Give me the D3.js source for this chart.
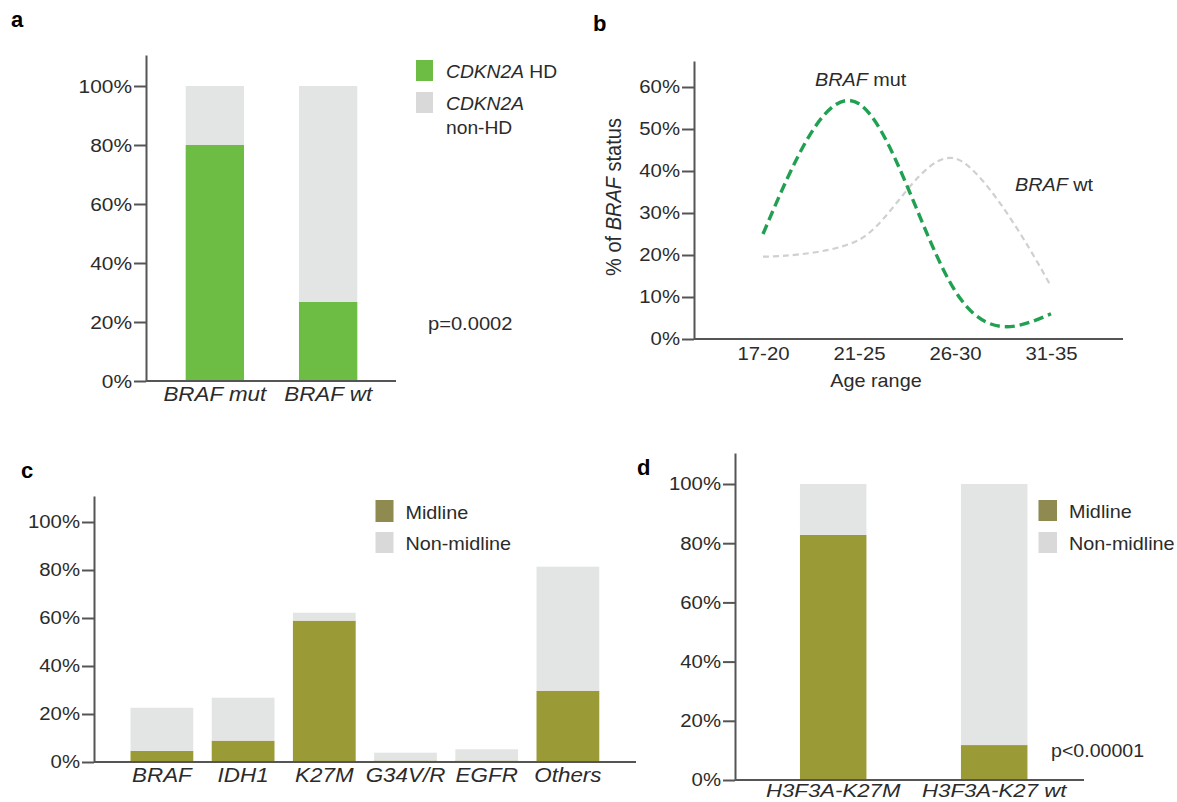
<!DOCTYPE html>
<html>
<head>
<meta charset="utf-8">
<script src="https://cdn.jsdelivr.net/npm/d3@7"></script>
<style>
  body { margin: 0; background: #fff; }
  svg { display: block; }
  text { font-family: "Liberation Sans", Arial, sans-serif; fill: #2b2b2b; }
  .panel-label { font-weight: bold; fill: #000; }
</style>
</head>
<body>
<svg id="chart" width="1177" height="802"></svg>
<script>
// panel a: CDKN2A status by BRAF status
const aCategories = ['BRAF mut', 'BRAF wt'];
const aHD = [0.80, 0.268];
const aNonHD = [0.20, 0.732];

// panel b: age distribution by BRAF status
const bAgeRanges = ['17-20', '21-25', '26-30', '31-35'];
const bMut = [0.25, 0.56, 0.115, 0.06];
const bWt = [0.196, 0.236, 0.43, 0.125];

// panel c: location by alteration
const cCategories = ['BRAF', 'IDH1', 'K27M', 'G34V/R', 'EGFR', 'Others'];
const cMidline = [0.046, 0.089, 0.589, 0.006, 0.006, 0.297];
const cNonMidline = [0.180, 0.179, 0.033, 0.033, 0.047, 0.517];

// panel d: location by H3F3A status
const dCategories = ['H3F3A-K27M', 'H3F3A-K27 wt'];
const dMidline = [0.828, 0.118];
const dNonMidline = [0.172, 0.882];

const pctTicks = [0, 0.2, 0.4, 0.6, 0.8, 1];
const bTicks = [0, 0.1, 0.2, 0.3, 0.4, 0.5, 0.6];

const green = '#6dbd45', olive = '#9a9a37', lightGray = '#e3e5e5';
const axisColor = '#555';

const svg = d3.select('#chart');
const fmtPct = d3.format('.0%');

// the source figure is a little wider than tall, so text is stretched sideways
function stretch(sel, k) {
  sel.each(function () {
    const t = d3.select(this);
    const x = +t.attr('x') || 0;
    const prev = t.attr('transform') || '';
    t.attr('transform', `${prev} translate(${x},0) scale(${k},1) translate(${-x},0)`.trim());
  });
  return sel;
}

function styleAxis(sel, fontSize, k) {
  sel.selectAll('path.domain').attr('stroke', axisColor).attr('stroke-width', 2);
  sel.selectAll('.tick line').attr('stroke', axisColor).attr('stroke-width', 2);
  const txt = sel.selectAll('.tick text').attr('fill', '#2b2b2b')
    .style('font-size', fontSize + 'px').attr('font-family', null);
  stretch(txt, k);
}

function stackedPanel(p) {
  const g = svg.append('g');
  const y = d3.scaleLinear().domain([0, 1]).range([p.y0, p.y100]);
  const x = d3.scaleBand().domain(p.categories).range(p.bandRange)
    .paddingInner(p.padInner).paddingOuter(p.padInner / 2);

  const rows = p.categories.map((c, i) => ({ cat: c, low: p.low[i], high: p.high[i] }));
  const series = d3.stack().keys(['low', 'high'])(rows);
  const colors = { low: p.lowColor, high: lightGray };

  g.selectAll('g.layer').data(series).join('g').attr('class', 'layer')
    .attr('fill', d => colors[d.key])
    .selectAll('rect').data(d => d).join('rect')
    .attr('x', d => x(d.data.cat))
    .attr('width', x.bandwidth())
    .attr('y', d => y(d[1]))
    .attr('height', d => y(d[0]) - y(d[1]));

  // y axis, drawn a bit past 100%
  const yAxisScale = y.copy().domain([0, p.yTop]).range([p.y0, p.y0 - (p.y0 - p.y100) * p.yTop]);
  const yAxisG = g.append('g').attr('transform', `translate(${p.xAxis[0]},0)`)
    .call(d3.axisLeft(yAxisScale).tickValues(pctTicks).tickFormat(fmtPct)
      .tickSize(12).tickSizeOuter(0).tickPadding(2));
  styleAxis(yAxisG, p.tickFont, 1.1);

  // baseline
  g.append('line').attr('x1', p.xAxis[0]).attr('x2', p.xAxis[1])
    .attr('y1', y(0)).attr('y2', y(0)).attr('stroke', axisColor).attr('stroke-width', 2);

  // category labels
  const xAxisG = g.append('g').attr('transform', `translate(0,${y(0)})`)
    .call(d3.axisBottom(x).tickSize(0).tickPadding(p.catPad));
  xAxisG.select('path.domain').remove();
  const cat = xAxisG.selectAll('.tick text').style('font-size', p.catFont + 'px')
    .style('font-style', 'italic').attr('font-family', null).attr('fill', '#2b2b2b');
  stretch(cat, p.catStretch);
  return { g, x, y };
}

function legend(g, items, x, y, fontSize, gap) {
  items.forEach((it, i) => {
    const yy = y + i * gap;
    g.append('rect').attr('x', x).attr('y', yy).attr('width', it.w).attr('height', it.h)
      .attr('fill', it.color);
    const tx = x + it.w + it.pad;
    const t = g.append('text').attr('x', tx).attr('y', yy + it.h - 3)
      .style('font-size', fontSize + 'px');
    it.lines.forEach((line, li) => {
      const ts = t.append('tspan').attr('x', tx).attr('dy', li === 0 ? 0 : '1.35em');
      line.forEach(part => ts.append('tspan').text(part.t)
        .style('font-style', part.i ? 'italic' : 'normal'));
    });
    stretch(t, 1.1);
  });
}

function panelLabel(txt, x, y) {
  svg.append('text').attr('class', 'panel-label').attr('x', x).attr('y', y)
    .style('font-size', '22px').text(txt);
}

// ---------- panel a ----------
const A = stackedPanel({
  categories: aCategories, low: aHD, high: aNonHD, lowColor: green,
  y0: 381, y100: 86, yTop: 1.105, xAxis: [146, 396],
  bandRange: [158.2, 384.8], padInner: 0.485,
  tickFont: 19, catFont: 20, catStretch: 1.12, catPad: 6
});
legend(A.g, [
  { color: green, w: 17, h: 21, pad: 13, lines: [[{ t: 'CDKN2A', i: true }, { t: ' HD' }]] },
  { color: '#d9d9d9', w: 17, h: 21, pad: 13, lines: [[{ t: 'CDKN2A', i: true }], [{ t: 'non-HD' }]] }
], 416, 60, 17.5, 32);
stretch(A.g.append('text').attr('x', 428).attr('y', 330).style('font-size', '18.3px')
  .text('p=0.0002'), 1.1);
panelLabel('a', 11, 27);

// ---------- panel b ----------
{
  const g = svg.append('g');
  const y = d3.scaleLinear().domain([0, 0.6]).range([339, 87]);
  const yAxisScale = y.copy().domain([0, 0.662]).range([339, 339 - 420 * 0.662]);
  const x = d3.scalePoint().domain(bAgeRanges).range([763, 1051]);

  const yAxisG = g.append('g').attr('transform', 'translate(694,0)')
    .call(d3.axisLeft(yAxisScale).tickValues(bTicks).tickFormat(fmtPct)
      .tickSize(12).tickSizeOuter(0).tickPadding(2));
  styleAxis(yAxisG, 18.5, 1.1);

  g.append('line').attr('x1', 694).attr('x2', 1123).attr('y1', y(0)).attr('y2', y(0))
    .attr('stroke', axisColor).attr('stroke-width', 2);
  const xAxisG = g.append('g').attr('transform', `translate(0,${y(0)})`)
    .call(d3.axisBottom(x).tickSize(0).tickPadding(8));
  xAxisG.select('path.domain').remove();
  stretch(xAxisG.selectAll('.tick text').style('font-size', '18.5px').attr('font-family', null)
    .attr('fill', '#2b2b2b'), 1.1);

  const mutLine = d3.line().x((d, i) => x(bAgeRanges[i])).y(d => y(d)).curve(d3.curveNatural);
  const wtLine = d3.line().x((d, i) => x(bAgeRanges[i])).y(d => y(d)).curve(d3.curveCardinal);
  g.append('path').datum(bWt).attr('d', wtLine).attr('fill', 'none')
    .attr('stroke', '#d0d0d0').attr('stroke-width', 2.2).attr('stroke-dasharray', '6,4');
  g.append('path').datum(bMut).attr('d', mutLine).attr('fill', 'none')
    .attr('stroke', '#22a052').attr('stroke-width', 3.4).attr('stroke-dasharray', '10,5');

  const mutLbl = g.append('text').attr('x', 815).attr('y', 86).style('font-size', '18px');
  mutLbl.append('tspan').style('font-style', 'italic').text('BRAF');
  mutLbl.append('tspan').text(' mut');
  stretch(mutLbl, 1.1);
  const wtLbl = g.append('text').attr('x', 1015).attr('y', 191).style('font-size', '18px');
  wtLbl.append('tspan').style('font-style', 'italic').text('BRAF');
  wtLbl.append('tspan').text(' wt');
  stretch(wtLbl, 1.1);

  stretch(g.append('text').attr('x', 876).attr('y', 387).attr('text-anchor', 'middle')
    .style('font-size', '18px').text('Age range'), 1.1);
  const yt = g.append('text').attr('transform', 'translate(621,197) scale(1.1,1) rotate(-90)')
    .attr('text-anchor', 'middle').style('font-size', '20px');
  yt.append('tspan').text('% of ');
  yt.append('tspan').style('font-style', 'italic').text('BRAF');
  yt.append('tspan').text(' status');

  panelLabel('b', 593, 31);
}

// ---------- panel c ----------
const C = stackedPanel({
  categories: cCategories, low: cMidline, high: cNonMidline, lowColor: olive,
  y0: 762, y100: 522, yTop: 1.108, xAxis: [94, 636],
  bandRange: [121.3, 608.5], padInner: 0.227,
  tickFont: 18.5, catFont: 20, catStretch: 1.12, catPad: 6
});
legend(C.g, [
  { color: '#8e8a50', w: 18, h: 22, pad: 12, lines: [[{ t: 'Midline' }]] },
  { color: '#d9d9d9', w: 18, h: 21, pad: 12, lines: [[{ t: 'Non-midline' }]] }
], 375.5, 500, 18, 32);
panelLabel('c', 21, 478);

// ---------- panel d ----------
const D = stackedPanel({
  categories: dCategories, low: dMidline, high: dNonMidline, lowColor: olive,
  y0: 780, y100: 484, yTop: 1.105, xAxis: [735, 1084],
  bandRange: [752.7, 1074.7], padInner: 0.587,
  tickFont: 18.5, catFont: 18.5, catStretch: 1.2, catPad: 4
});
legend(D.g, [
  { color: '#8e8a50', w: 18.5, h: 21, pad: 12, lines: [[{ t: 'Midline' }]] },
  { color: '#d9d9d9', w: 18.5, h: 21, pad: 12, lines: [[{ t: 'Non-midline' }]] }
], 1038.5, 500, 18, 32);
stretch(D.g.append('text').attr('x', 1051).attr('y', 757).style('font-size', '17.8px')
  .text('p<0.00001'), 1.1);
panelLabel('d', 637, 475);
</script>
</body>
</html>
